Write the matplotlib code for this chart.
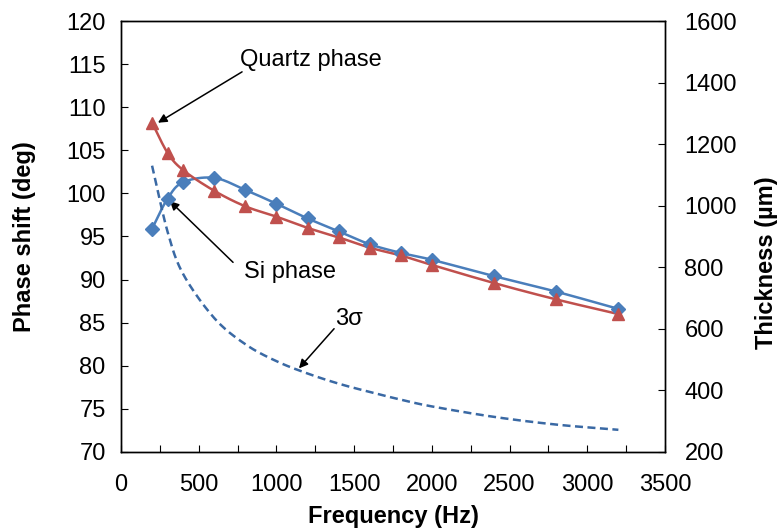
import numpy as np
import matplotlib
matplotlib.use('Agg')
import matplotlib.pyplot as plt

plt.rcParams['font.family'] = ['Liberation Sans', 'DejaVu Sans']

# data
freq = [200, 300, 400, 600, 800, 1000, 1200, 1400, 1600, 1800, 2000, 2400, 2800, 3200]
si_phase = [95.9, 99.4, 101.3, 101.8, 100.4, 98.8, 97.1, 95.6, 94.1, 93.1, 92.3, 90.4, 88.6, 86.6]
quartz_phase = [108.2, 104.7, 102.7, 100.3, 98.5, 97.3, 96.0, 94.9, 93.7, 92.8, 91.7, 89.6, 87.7, 86.0]
sigma3 = [1130, 915, 778, 635, 550, 495, 455, 422, 395, 370, 348, 314, 289, 272]

C_BLUE, C_RED, C_DASH = '#4a7ebb', '#c0504d', '#3a69a4'
FS = 17


def smooth(x, y, n=20):
    # Catmull-Rom like Excel "smoothed line"
    x = np.asarray(x, float); y = np.asarray(y, float)
    px = np.r_[2 * x[0] - x[1], x, 2 * x[-1] - x[-2]]
    py = np.r_[2 * y[0] - y[1], y, 2 * y[-1] - y[-2]]
    xs, ys = [], []
    t = np.linspace(0, 1, n, endpoint=False)
    for i in range(1, len(px) - 2):
        for arr, out in ((px, xs), (py, ys)):
            p0, p1, p2, p3 = arr[i - 1:i + 3]
            out.extend(0.5 * ((2 * p1) + (-p0 + p2) * t + (2 * p0 - 5 * p1 + 4 * p2 - p3) * t ** 2
                              + (-p0 + 3 * p1 - 3 * p2 + p3) * t ** 3))
    xs.append(x[-1]); ys.append(y[-1])
    return np.array(xs), np.array(ys)


fig = plt.figure(figsize=(7.82, 5.29), dpi=100)
ax = fig.add_axes([0.1547, 0.1456, 0.6957, 0.8147])
ax2 = ax.twinx()

for yv, c, m, ms in ((si_phase, C_BLUE, 'D', 7), (quartz_phase, C_RED, '^', 8.5)):
    sx, sy = smooth(freq, yv)
    ax.plot(sx, sy, color=c, lw=1.8, zorder=3)
    ax.plot(freq, yv, ls='none', marker=m, ms=ms, color=c, zorder=4)

sx, sy = smooth(freq, sigma3)
ax2.plot(sx, sy, color=C_DASH, lw=1.8, dashes=(3.2, 1.8))

ax.set_xlim(0, 3500)
ax.set_ylim(70, 120)
ax2.set_ylim(200, 1600)
ax.set_xticks(np.arange(0, 3501, 500))
ax.set_xticks(np.arange(0, 3501, 250), minor=True)
ax.set_yticks(np.arange(70, 121, 5))
ax2.set_yticks(np.arange(200, 1601, 200))

for a in (ax, ax2):
    a.tick_params(direction='in', labelsize=FS, length=5, width=0.8)
    a.tick_params(which='minor', direction='in', length=5, width=0.8)
    for s in a.spines.values():
        s.set_linewidth(1.0)
ax.tick_params(axis='y', pad=11)
ax.tick_params(axis='x', pad=16)
ax2.tick_params(axis='y', pad=14)

ax.set_xlabel('Frequency (Hz)', fontsize=FS, fontweight='bold', labelpad=6)
ax.set_ylabel('Phase shift (deg)', fontsize=FS, fontweight='bold', labelpad=22)
ax2.set_ylabel('Thickness (µm)', fontsize=FS, fontweight='bold')
ax2.yaxis.set_label_coords(1.166, 0.44)

arrow = dict(arrowstyle='-|>', color='black', lw=1.1, mutation_scale=13, shrinkA=0, shrinkB=0)
ax.text(1223, 115.5, 'Quartz phase', fontsize=FS, ha='center', va='center')
ax.annotate('', xy=(238, 108.2), xytext=(779, 114.1), arrowprops=arrow)
ax.text(1087, 90.9, 'Si phase', fontsize=FS, ha='center', va='center')
ax.annotate('', xy=(315, 99.1), xytext=(721, 92.0), arrowprops=arrow)
ax.text(1467, 85.4, '3σ', fontsize=FS, ha='center', va='center')
ax.annotate('', xy=(1145, 79.7), xytext=(1371, 84.3), arrowprops=arrow)

fig.savefig('out.png', dpi=100)
